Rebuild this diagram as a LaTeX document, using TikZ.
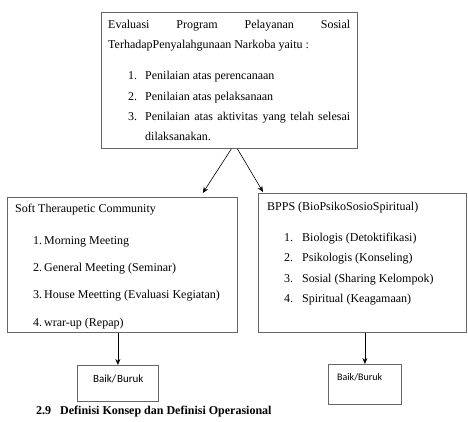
\documentclass[tikz,border=0pt]{standalone}
\usepackage{fontspec}
\setmainfont{Liberation Serif}
\newfontfamily\calib{Carlito}
\usetikzlibrary{arrows.meta}
\begin{document}
\begin{tikzpicture}[x=1pt,y=-1pt,
  box/.style={draw=black!60, line width=0.8pt, inner sep=0pt, anchor=north west},
  txt/.style={anchor=base west, inner sep=0pt, font=\fontsize{12}{14}\selectfont},
  sml/.style={anchor=base west, inner sep=0pt},
  arr/.style={-{Stealth[length=6pt,width=5pt]}, line width=0.6pt, black},
]
\useasboundingbox (0,0) rectangle (468,421);

% boxes
\node[box, minimum width=256pt, minimum height=136pt] (top) at (101,12) {};
\node[box, minimum width=230pt, minimum height=135pt] (left) at (7,197) {};
\node[box, minimum width=208pt, minimum height=139pt] (right) at (258,193) {};
\node[box, minimum width=81pt, minimum height=36pt] (lb) at (77,365) {};
\node[box, minimum width=73pt, minimum height=40pt] (rb) at (328,364) {};

% top box text
\node[txt] (t1) at (108,28) {\makebox[242pt]{Evaluasi\hfill Program\hfill Pelayanan\hfill Sosial}};
\node[txt] (t2) at (108,48.5) {TerhadapPenyalahgunaan Narkoba yaitu :};
\node[txt] (t3n) at (128,79) {1.};
\node[txt] (t3) at (145,79) {Penilaian atas perencanaan};
\node[txt] (t4n) at (128,100) {2.};
\node[txt] (t4) at (145,100) {Penilaian atas pelaksanaan};
\node[txt] (t5n) at (128,120.5) {3.};
\node[txt] (t5) at (145,120.5) {\makebox[205pt][s]{Penilaian atas aktivitas yang telah selesai}};
\node[txt] (t6) at (145,140.5) {dilaksanakan.};

% left box text
\node[txt] (l0) at (15,212) {Soft Theraupetic Community};
\node[txt] (l1) at (33,244) {1.\,Morning Meeting};
\node[txt] (l2) at (33,271) {2.\,General Meeting (Seminar)};
\node[txt] (l3) at (33,298.5) {3.\,House Meetting (Evaluasi Kegiatan)};
\node[txt] (l4) at (33,326) {4.\,wrar-up (Repap)};

% right box text
\node[txt] (r0) at (267,210) {BPPS (BioPsikoSosioSpiritual)};
\node[txt] (r1n) at (284,241) {1.};
\node[txt] (r1) at (302,241) {Biologis (Detoktifikasi)};
\node[txt] (r2n) at (284,261.5) {2.};
\node[txt] (r2) at (302,261.5) {Psikologis (Konseling)};
\node[txt] (r3n) at (284,282) {3.};
\node[txt] (r3) at (302,282) {Sosial (Sharing Kelompok)};
\node[txt] (r4n) at (284,302) {4.};
\node[txt] (r4) at (302,302) {Spiritual (Keagamaan)};

% result boxes text
\node[sml, font=\calib\fontsize{11}{13}\selectfont] (lbt) at (93,382) {Baik/\kern0.8pt Buruk};
\node[sml, font=\calib\fontsize{10}{12}\selectfont] (rbt) at (337,380) {Baik/Buruk};

% heading
\node[txt, font=\fontsize{12}{14}\selectfont\bfseries] (h1) at (36,414) {2.9};
\node[txt, font=\fontsize{12}{14}\selectfont\bfseries] (h2) at (60,414) {Definisi Konsep dan Definisi Operasional};

% arrows
\draw[arr] ([xshift=2pt]top.south) -- ([xshift=-35pt,yshift=4pt]left.north east);
\draw[arr] ([xshift=8pt]top.south) -- ([xshift=5pt,yshift=1pt]right.north west);
\draw[arr] (lb.north |- left.south) -- (lb.north);
\draw[arr] (rb.north |- right.south) -- (rb.north);
\end{tikzpicture}
\end{document}
